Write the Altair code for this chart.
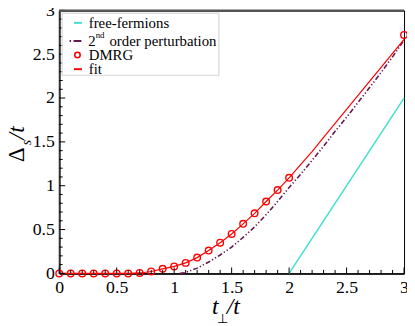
import altair as alt
import pandas as pd

# ---------------- data ----------------
dmrg_x = [0.0, 0.1, 0.2, 0.3, 0.4, 0.5, 0.6, 0.7, 0.8, 0.9, 1.0,
          1.1, 1.2, 1.3, 1.4, 1.5, 1.6, 1.7, 1.8, 1.9, 2.0, 3.0]
dmrg_y = [0.0, 0.0, 0.0, 0.0, 0.0, 0.0, 0.0, 0.005, 0.022, 0.052, 0.08,
          0.12, 0.18, 0.26, 0.35, 0.45, 0.565, 0.685, 0.82, 0.95, 1.09, 2.72]

fit_x = [0.0, 0.1, 0.2, 0.3, 0.4, 0.5, 0.6, 0.7, 0.8, 0.9, 1.0,
         1.1, 1.2, 1.3, 1.4, 1.5, 1.6, 1.7, 1.8, 1.9, 2.0,
         2.1, 2.2, 2.3, 2.4, 2.5, 2.6, 2.7, 2.8, 2.9, 3.0]
fit_y = [0.0, 0.0, 0.0, 0.0, 0.0, 0.0, 0.0, 0.005, 0.022, 0.052, 0.08,
         0.12, 0.18, 0.26, 0.35, 0.45, 0.565, 0.685, 0.82, 0.95, 1.09,
         1.24, 1.39, 1.55, 1.71, 1.87, 2.03, 2.19, 2.35, 2.51, 2.67]

pert_x = [1.05, 1.1, 1.2, 1.3, 1.4, 1.5, 1.6, 1.7, 1.8, 1.9, 2.0,
          2.1, 2.2, 2.3, 2.4, 2.5, 2.6, 2.7, 2.8, 2.9, 3.0]
pert_y = [0.0, 0.01, 0.06, 0.13, 0.21, 0.30, 0.41, 0.53, 0.67, 0.82, 0.98,
          1.13, 1.29, 1.45, 1.62, 1.78, 1.95, 2.12, 2.29, 2.47, 2.66]

ff_x = [2.0, 3.0]
ff_y = [0.0, 2.0]

major_ticks = [0.0, 0.5, 1.0, 1.5, 2.0, 2.5, 3.0]
minor_ticks = [0.1, 0.2, 0.3, 0.4, 0.6, 0.7, 0.8, 0.9, 1.1, 1.2, 1.3, 1.4,
               1.6, 1.7, 1.8, 1.9, 2.1, 2.2, 2.3, 2.4, 2.6, 2.7, 2.8, 2.9]

legend_labels = ["free-fermions", "2", "nd", "order perturbation", "DMRG", "fit"]

# ---------------- styles ----------------
FONT = "Liberation Serif"
C_FF = "#40E0D0"
C_PT = "#65194F"
C_RED = "#FF0000"
W, H = 350, 267

xs = alt.Scale(domain=[0, 3], nice=False, zero=False)
ys = alt.Scale(domain=[0, 3], nice=False, zero=False)
xaxis = alt.Axis(values=major_ticks, format="~g", ticks=False, title=None,
                 labelFont=FONT, labelFontSize=18, labelColor="black",
                 labelPadding=5, labelFlush=False, grid=False,
                 domainColor="black", domainWidth=1.5)
yaxis = alt.Axis(values=major_ticks, format="~g", ticks=False, title=None,
                 labelFont=FONT, labelFontSize=18, labelColor="black",
                 labelPadding=5, labelFlush=False, grid=False,
                 domainColor="#333333", domainWidth=2)


def X(f):
    return alt.X(f, type="quantitative", scale=xs, axis=xaxis)


def Y(f):
    return alt.Y(f, type="quantitative", scale=ys, axis=yaxis)


df_dmrg = pd.DataFrame({"x": dmrg_x, "y": dmrg_y})
df_fit = pd.DataFrame({"x": fit_x, "y": fit_y})
df_pert = pd.DataFrame({"x": pert_x, "y": pert_y})
df_ff = pd.DataFrame({"x": ff_x, "y": ff_y})
df_major = pd.DataFrame({"v": major_ticks})
df_minor = pd.DataFrame({"v": minor_ticks})
one = pd.DataFrame({"k": [0]})

ff = alt.Chart(df_ff).mark_line(color=C_FF, strokeWidth=1.5).encode(x=X("x"), y=Y("y"))
pert = alt.Chart(df_pert).mark_line(color=C_PT, strokeWidth=1.6,
                                    strokeDash=[5, 2.2, 1.3, 2.2, 1.3, 2.2]).encode(x=X("x"), y=Y("y"))
fit = alt.Chart(df_fit).mark_line(color=C_RED, strokeWidth=1.2).encode(x=X("x"), y=Y("y"))
dmrg = alt.Chart(df_dmrg).mark_point(shape="circle", filled=False, color=C_RED,
                                     size=45, strokeWidth=1.4, opacity=1).encode(x=X("x"), y=Y("y"))

# inward ticks
bt_major = alt.Chart(df_major).mark_rule(color="black", strokeWidth=1).encode(
    x=X("v"), y=alt.value(H), y2=alt.value(H - 6))
bt_minor = alt.Chart(df_minor).mark_rule(color="black", strokeWidth=1).encode(
    x=X("v"), y=alt.value(H), y2=alt.value(H - 3.5))
lt_major = alt.Chart(df_major).mark_rule(color="black", strokeWidth=1).encode(
    y=Y("v"), x=alt.value(0), x2=alt.value(6))
lt_minor = alt.Chart(df_minor).mark_rule(color="black", strokeWidth=1).encode(
    y=Y("v"), x=alt.value(0), x2=alt.value(3.5))

top_rule = alt.Chart(one).mark_rule(color="#555555", strokeWidth=2.5).encode(
    x=alt.value(0), x2=alt.value(W), y=alt.value(0.5))

# legend
leg_box = alt.Chart(one).mark_rect(fill="white", stroke="#dddddd", strokeWidth=1.5).encode(
    x=alt.value(3), x2=alt.value(162), y=alt.value(3), y2=alt.value(66))
rows = [12.7, 31.0, 45.3, 59.7]
leg_ff = alt.Chart(one).mark_rule(color=C_FF, strokeWidth=2).encode(
    x=alt.value(15), x2=alt.value(23), y=alt.value(rows[0]))
leg_pt = alt.Chart(one).mark_rule(color=C_PT, strokeWidth=2, strokeDash=[1.5, 2.5, 8, 10]).encode(
    x=alt.value(10.5), x2=alt.value(23), y=alt.value(rows[1]))
leg_dm = alt.Chart(one).mark_point(shape="circle", filled=False, color=C_RED, size=30,
                                   strokeWidth=1.6, opacity=1).encode(
    x=alt.value(18.5), y=alt.value(rows[2]))
leg_fit = alt.Chart(one).mark_rule(color=C_RED, strokeWidth=2).encode(
    x=alt.value(15), x2=alt.value(23), y=alt.value(rows[3]))


def txt(s, x, y, size=14, italic=False, angle=0, baseline="middle"):
    kw = dict(text=s, font=FONT, fontSize=size, align="left", baseline=baseline, color="black")
    if italic:
        kw["fontStyle"] = "italic"
    if angle:
        kw["angle"] = angle
    return alt.Chart(one).mark_text(**kw).encode(x=alt.value(x), y=alt.value(y))


leg_texts = [
    txt(legend_labels[0], 30, rows[0], size=15),
    txt(legend_labels[1], 29.5, rows[1], size=15),
    txt(legend_labels[2], 37, rows[1] - 6, size=9),
    txt(legend_labels[3], 51, rows[1], size=15),
    txt(legend_labels[4], 30, rows[2], size=15),
    txt(legend_labels[5], 30, rows[3], size=15),
]

# axis titles
xt = [
    txt("t", 155, 308, size=24, italic=True, baseline="alphabetic"),
    txt("\u22a5", 160, 317, size=13, baseline="alphabetic"),
    txt("/t", 170, 308, size=24, italic=True, baseline="alphabetic"),
]
yt = [
    txt("\u0394", -36, 154, size=23, angle=270, baseline="alphabetic"),
    txt("s", -29, 137, size=14, italic=True, angle=270, baseline="alphabetic"),
    txt("/t", -36, 131, size=24, italic=True, angle=270, baseline="alphabetic"),
]

chart = alt.layer(
    ff, pert, fit, dmrg,
    bt_major, bt_minor, lt_major, lt_minor, top_rule,
    leg_box, leg_ff, leg_pt, leg_dm, leg_fit, *leg_texts, *xt, *yt
).properties(
    width=W, height=H,
    autosize=alt.AutoSizeParams(type="none"),
    padding={"left": 52, "top": 0, "right": 3, "bottom": 51},
).configure(
    font=FONT
).configure_axis(
    labelFont=FONT
).configure_text(
    font=FONT
).configure_view(stroke="black", strokeWidth=1)

chart.save("out.html", embed_options={"renderer": "svg", "actions": False})
